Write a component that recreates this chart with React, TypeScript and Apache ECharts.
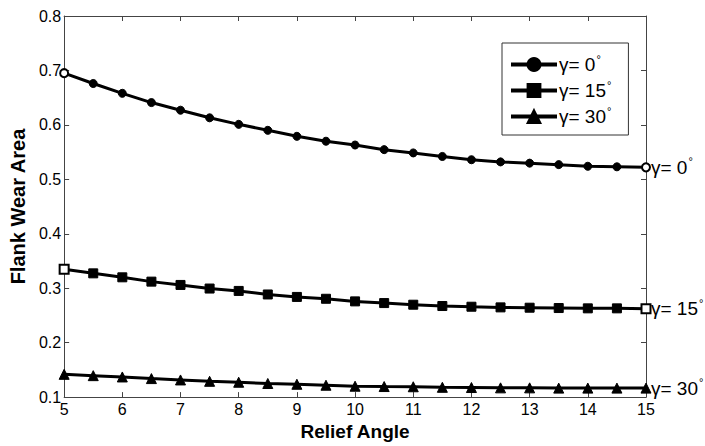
import React, { useEffect, useRef } from "react";
import * as echarts from "echarts";

const reliefAngles = [5, 5.5, 6, 6.5, 7, 7.5, 8, 8.5, 9, 9.5, 10, 10.5, 11, 11.5, 12, 12.5, 13, 13.5, 14, 14.5, 15];
const gamma0 = [0.695, 0.676, 0.658, 0.641, 0.627, 0.613, 0.601, 0.590, 0.579, 0.570, 0.563, 0.5545, 0.5485, 0.542, 0.536, 0.532, 0.5297, 0.527, 0.524, 0.523, 0.522];
const gamma15 = [0.335, 0.3273, 0.320, 0.3121, 0.306, 0.2994, 0.295, 0.2885, 0.284, 0.2806, 0.2758, 0.2727, 0.2697, 0.2673, 0.266, 0.2648, 0.2642, 0.2636, 0.263, 0.263, 0.2624];
const gamma30 = [0.1418, 0.1394, 0.137, 0.134, 0.1315, 0.129, 0.1273, 0.125, 0.1236, 0.1218, 0.120, 0.1194, 0.119, 0.118, 0.1176, 0.117, 0.117, 0.1165, 0.1165, 0.1165, 0.1165];
const seriesNames = ["γ= 0", "γ= 15", "γ= 30"];
const seriesSymbols = ["circle", "rect", "triangle"];
const seriesSizes = [8, 9, 10];
const yTicks = { min: 0.1, max: 0.8, interval: 0.1 };
const xTicks = { min: 5, max: 15, interval: 1 };

const FONT = "'Liberation Sans', Arial, sans-serif";

export default function App() {
  const ref = useRef<HTMLDivElement>(null);
  useEffect(() => {
    if (!ref.current) return;
    const chart = echarts.init(ref.current, null, { renderer: "svg" });
    const allData = [gamma0, gamma15, gamma30];
    const rich = {
      g: { fontFamily: FONT, fontSize: 19, color: "#000", fontWeight: "normal" },
      s: { fontFamily: FONT, fontSize: 11, color: "#000", verticalAlign: "top", padding: [0, 0, 12, 1] },
    };
    const series = allData.map((vals, i) => ({
      name: seriesNames[i],
      type: "line",
      xAxisIndex: 0,
      yAxisIndex: 0,
      symbol: seriesSymbols[i],
      symbolSize: seriesSizes[i],
      showAllSymbol: true,
      lineStyle: { color: "#000", width: 3 },
      itemStyle: { color: "#000", borderColor: "#000", borderWidth: 1 },
      data: vals.map((v, j) => {
        const item: any = { value: [reliefAngles[j], v] };
        if (i < 2 && (j === 0 || j === vals.length - 1)) {
          item.itemStyle = { color: "#fff", borderColor: "#000", borderWidth: 2 };
        }
        return item;
      }),
      endLabel: {
        show: true,
        formatter: () => `{g|${seriesNames[i]}}{s|°}`,
        distance: 5,
        rich,
      },
    }));
    chart.setOption({
      animation: false,
      backgroundColor: "#fff",
      textStyle: { fontFamily: FONT },
      grid: { left: 62, right: 59, top: 16, bottom: 45 },
      legend: {
        left: 502,
        top: 43,
        orient: "vertical",
        itemWidth: 46,
        itemHeight: 16,
        itemGap: 5,
        padding: [10, 17, 9, 7],
        borderColor: "#333",
        borderWidth: 1,
        backgroundColor: "#fff",
        lineStyle: { width: 4 },
        formatter: (name: string) => `{g|${name}}{s|°}`,
        textStyle: { rich, padding: [0, 0, 0, -3] },
      },
      xAxis: [
        {
          type: "value",
          min: xTicks.min,
          max: xTicks.max,
          interval: xTicks.interval,
          name: "Relief Angle",
          nameLocation: "middle",
          nameGap: 23,
          nameTextStyle: { fontFamily: FONT, fontSize: 19, fontWeight: "bold", color: "#000" },
          axisLine: { lineStyle: { color: "#444", width: 1 } },
          axisTick: { inside: true, length: 5, lineStyle: { color: "#444" } },
          axisLabel: { fontFamily: FONT, fontSize: 16, color: "#000", margin: 4 },
          splitLine: { show: false },
        },
        {
          type: "value",
          position: "top",
          min: xTicks.min,
          max: xTicks.max,
          interval: xTicks.interval,
          axisLine: { lineStyle: { color: "#444", width: 1 } },
          axisTick: { inside: true, length: 5, lineStyle: { color: "#444" } },
          axisLabel: { show: false },
          splitLine: { show: false },
        },
      ],
      yAxis: [
        {
          type: "value",
          min: yTicks.min,
          max: yTicks.max,
          interval: yTicks.interval,
          name: "Flank Wear Area",
          nameLocation: "middle",
          nameGap: 32,
          nameTextStyle: { fontFamily: FONT, fontSize: 20, fontWeight: "bold", color: "#000" },
          axisLine: { show: true, lineStyle: { color: "#444", width: 1 } },
          axisTick: { show: true, inside: true, length: 5, lineStyle: { color: "#444" } },
          axisLabel: { fontFamily: FONT, fontSize: 16, color: "#000", margin: 3, formatter: (v: number) => v.toFixed(1) },
          splitLine: { show: false },
        },
        {
          type: "value",
          position: "right",
          min: yTicks.min,
          max: yTicks.max,
          interval: yTicks.interval,
          axisLine: { show: true, lineStyle: { color: "#444", width: 1 } },
          axisTick: { show: true, inside: true, length: 5, lineStyle: { color: "#444" } },
          axisLabel: { show: false },
          splitLine: { show: false },
        },
      ],
      series,
    });
    return () => chart.dispose();
  }, []);
  return <div ref={ref} style={{ width: 705, height: 446, position: "absolute", left: 0, top: 0 }} />;
}
